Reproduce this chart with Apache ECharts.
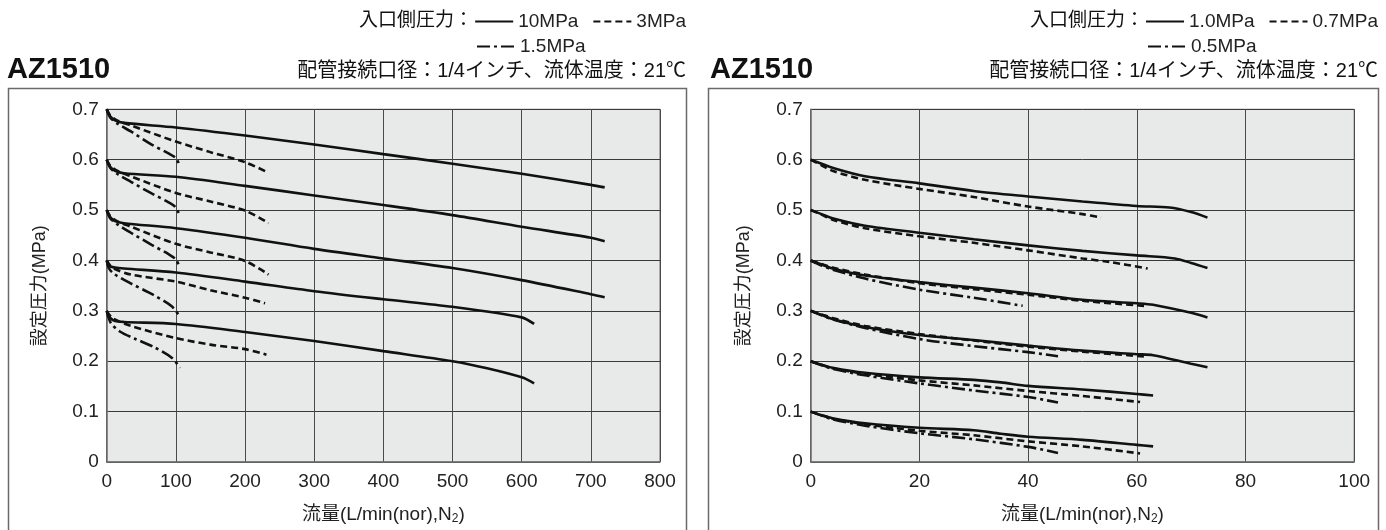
<!DOCTYPE html>
<html>
<head>
<meta charset="utf-8">
<script src="https://cdn.jsdelivr.net/npm/echarts@6/dist/echarts.min.js"></script>
<style>
html,body{margin:0;padding:0;background:#fff;}
#c{width:1386px;height:530px;}
</style>
</head>
<body>
<div id="c"></div>
<script>
// ---------- Data (x = flow L/min(nor), y = set pressure MPa) ----------
// Left chart: AZ1510, inlet pressure 10MPa (solid), 3MPa (dashed), 1.5MPa (dash-dot)
const L_10MPa_07 = [[0,0.700],[5,0.686],[12,0.678],[25,0.673],[100,0.664],[200,0.648],[300,0.630],[400,0.611],[500,0.592],[600,0.572],[700,0.550],[720,0.545]];
const L_10MPa_06 = [[0,0.600],[5,0.586],[12,0.578],[25,0.573],[100,0.566],[200,0.548],[300,0.529],[400,0.510],[500,0.490],[600,0.467],[700,0.445],[720,0.438]];
const L_10MPa_05 = [[0,0.500],[5,0.486],[12,0.478],[25,0.474],[100,0.464],[200,0.445],[300,0.423],[400,0.404],[500,0.385],[600,0.361],[700,0.333],[720,0.327]];
const L_10MPa_04 = [[0,0.400],[4,0.389],[12,0.386],[25,0.384],[100,0.376],[200,0.358],[300,0.339],[400,0.323],[500,0.308],[600,0.287],[618,0.274]];
const L_10MPa_03 = [[0,0.300],[5,0.286],[12,0.280],[25,0.278],[100,0.274],[200,0.258],[300,0.240],[400,0.220],[500,0.200],[550,0.186],[600,0.168],[618,0.156]];

const L_3MPa_07 = [[0,0.700],[5,0.688],[15,0.678],[35,0.668],[100,0.636],[150,0.615],[200,0.595],[234,0.574]];
const L_3MPa_06 = [[0,0.600],[5,0.588],[15,0.578],[35,0.567],[100,0.534],[150,0.517],[200,0.499],[234,0.474]];
const L_3MPa_05 = [[0,0.500],[5,0.488],[15,0.478],[35,0.467],[100,0.433],[150,0.416],[200,0.399],[234,0.372]];
const L_3MPa_04 = [[0,0.400],[5,0.390],[10,0.384],[35,0.372],[100,0.358],[150,0.341],[200,0.326],[229,0.315]];
const L_3MPa_03 = [[0,0.300],[5,0.290],[10,0.284],[35,0.270],[100,0.246],[150,0.233],[200,0.224],[231,0.213]];

const L_15MPa_07 = [[0,0.700],[5,0.684],[15,0.672],[35,0.656],[65,0.630],[90,0.612],[100,0.603],[106,0.587]];
const L_15MPa_06 = [[0,0.600],[5,0.584],[15,0.572],[35,0.556],[65,0.533],[90,0.515],[100,0.505],[106,0.487]];
const L_15MPa_05 = [[0,0.500],[5,0.484],[15,0.472],[35,0.455],[65,0.431],[90,0.412],[100,0.402],[106,0.385]];
const L_15MPa_04 = [[0,0.400],[3,0.385],[10,0.374],[34,0.355],[67,0.332],[94,0.309],[106,0.288]];
const L_15MPa_03 = [[0,0.300],[3,0.285],[7,0.274],[19,0.259],[40,0.245],[67,0.229],[94,0.207],[106,0.187]];

// Right chart: AZ1510, inlet pressure 1.0MPa (solid), 0.7MPa (dashed), 0.5MPa (dash-dot)
const R_10MPa_06 = [[0,0.600],[2,0.592],[4,0.584],[10,0.567],[20,0.553],[30,0.538],[40,0.527],[50,0.517],[60,0.508],[66,0.505],[70,0.496],[73,0.485]];
const R_10MPa_05 = [[0,0.500],[2,0.492],[4,0.484],[10,0.469],[20,0.455],[30,0.442],[40,0.430],[50,0.419],[60,0.410],[67,0.404],[70,0.395],[73,0.385]];
const R_10MPa_04 = [[0,0.400],[2,0.392],[4,0.384],[10,0.370],[20,0.357],[30,0.346],[40,0.335],[50,0.322],[60,0.315],[63,0.312],[70,0.296],[73,0.287]];
const R_10MPa_03 = [[0,0.300],[2,0.292],[4,0.284],[10,0.268],[20,0.252],[30,0.242],[40,0.231],[50,0.221],[60,0.214],[63,0.212],[70,0.195],[73,0.188]];
const R_10MPa_02 = [[0,0.200],[2,0.193],[4,0.187],[10,0.177],[20,0.168],[30,0.163],[35,0.158],[40,0.151],[50,0.144],[60,0.135],[63,0.132]];
const R_10MPa_01 = [[0,0.100],[2,0.093],[4,0.087],[10,0.077],[20,0.068],[30,0.063],[35,0.056],[40,0.050],[50,0.044],[60,0.034],[63,0.031]];

const R_07MPa_06 = [[0,0.600],[2,0.589],[4,0.578],[10,0.560],[20,0.542],[30,0.526],[40,0.507],[50,0.492],[53.4,0.485]];
const R_07MPa_05 = [[0,0.500],[2,0.491],[4,0.481],[10,0.464],[20,0.448],[30,0.435],[40,0.420],[50,0.404],[55,0.397],[62,0.384]];
const R_07MPa_04 = [[0,0.400],[2,0.393],[4,0.386],[10,0.372],[20,0.355],[30,0.343],[40,0.332],[50,0.320],[60,0.311],[62,0.309]];
const R_07MPa_03 = [[0,0.300],[2,0.293],[4,0.286],[10,0.270],[20,0.254],[30,0.241],[40,0.229],[50,0.219],[62,0.209]];
const R_07MPa_02 = [[0,0.200],[2,0.193],[4,0.186],[10,0.175],[20,0.162],[30,0.152],[40,0.141],[50,0.131],[60.6,0.119]];
const R_07MPa_01 = [[0,0.100],[2,0.093],[4,0.086],[10,0.075],[20,0.062],[30,0.053],[40,0.041],[50,0.031],[60.6,0.017]];

const R_05MPa_04 = [[0,0.400],[2,0.390],[4,0.382],[10,0.364],[20,0.342],[30,0.326],[39,0.310]];
const R_05MPa_03 = [[0,0.300],[2,0.291],[4,0.283],[10,0.266],[20,0.244],[30,0.230],[40,0.218],[45.5,0.210]];
const R_05MPa_02 = [[0,0.200],[2,0.192],[4,0.185],[10,0.172],[20,0.156],[30,0.142],[40,0.129],[45.5,0.118]];
const R_05MPa_01 = [[0,0.100],[2,0.092],[4,0.085],[10,0.072],[20,0.057],[30,0.045],[40,0.030],[45.5,0.018]];

// Axis ticks
const L_xTicks = [0,100,200,300,400,500,600,700,800];
const R_xTicks = [0,20,40,60,80,100];
const yTicks = [0,0.1,0.2,0.3,0.4,0.5,0.6,0.7];

// Legend / text
const L_names = ['10MPa','3MPa','1.5MPa'];
const R_names = ['1.0MPa','0.7MPa','0.5MPa'];
const titleText = 'AZ1510';
const subText = '配管接続口径：1/4インチ、流体温度：21℃';
const legendLabel = '入口側圧力：';
const yName = '設定圧力(MPa)';
const xName = '流量(L/min(nor),N{sub|2})';

// ---------- Chart ----------
const MIX = '"Liberation Sans", "Noto Sans CJK JP", sans-serif';
const NUM = '"Liberation Sans", Arial, sans-serif';
const INK = '#111';
const SOLID = 'solid', DASH = [7,4], DASHDOT = [13,4,3,4];

function mk(name, data, type, gi) {
  return {
    type: 'line', name, data, xAxisIndex: gi, yAxisIndex: gi,
    symbol: 'none', smooth: 0.3, silent: true, animation: false,
    lineStyle: { color: INK, width: 2.6, type },
    itemStyle: { color: INK }
  };
}

const series = [];
[L_10MPa_07,L_10MPa_06,L_10MPa_05,L_10MPa_04,L_10MPa_03].forEach(d=>series.push(mk(L_names[0], d, SOLID, 0)));
[L_3MPa_07,L_3MPa_06,L_3MPa_05,L_3MPa_04,L_3MPa_03].forEach(d=>series.push(mk(L_names[1], d, DASH, 0)));
[L_15MPa_07,L_15MPa_06,L_15MPa_05,L_15MPa_04,L_15MPa_03].forEach(d=>series.push(mk(L_names[2], d, DASHDOT, 0)));
[R_10MPa_06,R_10MPa_05,R_10MPa_04,R_10MPa_03,R_10MPa_02,R_10MPa_01].forEach(d=>series.push(mk(R_names[0], d, SOLID, 1)));
[R_07MPa_06,R_07MPa_05,R_07MPa_04,R_07MPa_03,R_07MPa_02,R_07MPa_01].forEach(d=>series.push(mk(R_names[1], d, DASH, 1)));
[R_05MPa_04,R_05MPa_03,R_05MPa_02,R_05MPa_01].forEach(d=>series.push(mk(R_names[2], d, DASHDOT, 1)));

const PLOT_TOP = 109.3, PLOT_H = 362.4;
const grids = [
  { left: 106.7, top: PLOT_TOP, width: 553.3, height: PLOT_H },
  { left: 810.7, top: PLOT_TOP, width: 543.5, height: PLOT_H }
].map(g => Object.assign(g, { show: true, backgroundColor: '#e8e9e9', borderColor: '#6a6a6a', borderWidth: 1 }));

const nameStyle = { fontFamily: MIX, fontSize: 19, color: '#222',
  rich: { sub: { fontFamily: NUM, fontSize: 12, color: '#222', padding: [9,0,0,0] } } };

function xAx(gi, ticks) {
  return {
    gridIndex: gi, type: 'value', min: ticks[0], max: ticks[ticks.length-1], interval: ticks[1]-ticks[0],
    axisLine: { show: true, onZero: false, lineStyle: { color: '#707070', width: 1.5 } },
    axisTick: { show: false },
    splitLine: { show: true, lineStyle: { color: '#4a4a4a', width: 1 } },
    axisLabel: { fontFamily: NUM, fontSize: 19, color: '#222', margin: 10, showMaxLabel: true, showMinLabel: true },
    name: xName, nameLocation: 'middle', nameGap: 42, nameTextStyle: nameStyle
  };
}
function yAx(gi) {
  return {
    gridIndex: gi, type: 'value', min: yTicks[0], max: yTicks[yTicks.length-1], interval: 0.1,
    axisLine: { show: true, onZero: false, lineStyle: { color: '#707070', width: 1.5 } },
    axisTick: { show: false },
    splitLine: { show: true, lineStyle: { color: '#3a3a3a', width: 1 } },
    axisLabel: { fontFamily: NUM, fontSize: 19, color: '#222', margin: 8,
      formatter: v => (Math.abs(v) < 1e-9 ? '0' : v.toFixed(1)) },
    name: yName, nameLocation: 'middle', nameRotate: 90, nameGap: 58,
    nameTextStyle: { fontFamily: MIX, fontSize: 18, color: '#222' }
  };
}

function legend(names, pos) {
  return Object.assign({
    data: names, orient: 'horizontal', itemWidth: 38, itemHeight: 12, itemGap: 14,
    selectedMode: false, padding: 0,
    itemStyle: { opacity: 0, borderWidth: 0 },
    textStyle: { fontFamily: NUM, fontSize: 19, color: '#222' }
  }, pos);
}

const subStyle = { fontFamily: MIX, fontSize: 20, fontWeight: 'normal', color: '#111' };
const titleStyle = { fontFamily: NUM, fontSize: 29, fontWeight: 'bold', color: '#111' };

const option = {
  backgroundColor: '#fff',
  animation: false,
  grid: grids,
  xAxis: [xAx(0, L_xTicks), xAx(1, R_xTicks)],
  yAxis: [yAx(0), yAx(1)],
  legend: [
    legend([L_names[0], L_names[1]], { right: 1386 - 686, top: 12 }),
    legend([L_names[2]], { left: 476, top: 37 }),
    legend([R_names[0], R_names[1]], { right: 1386 - 1378, top: 12 }),
    legend([R_names[2]], { left: 1147, top: 37 })
  ],
  title: [
    { text: titleText, left: 7, top: 55, padding: 0, textStyle: titleStyle },
    { text: titleText, left: 710, top: 55, padding: 0, textStyle: titleStyle },
    { text: subText, right: 1386 - 686, top: 61, padding: 0, textStyle: subStyle },
    { text: subText, right: 1386 - 1378, top: 61, padding: 0, textStyle: subStyle }
  ],
  graphic: [
    { type: 'rect', silent: true, z: -10, shape: { x: 8.5, y: 88.5, width: 678, height: 460 }, style: { fill: 'none', stroke: '#6a6a6a', lineWidth: 1.5 } },
    { type: 'rect', silent: true, z: -10, shape: { x: 708.5, y: 88.5, width: 670, height: 460 }, style: { fill: 'none', stroke: '#6a6a6a', lineWidth: 1.5 } },
    { type: 'text', silent: true, style: { text: legendLabel, x: 473, y: 21, align: 'right', verticalAlign: 'middle', fontFamily: MIX, fontSize: 19, fill: '#111' } },
    { type: 'text', silent: true, style: { text: legendLabel, x: 1144, y: 21, align: 'right', verticalAlign: 'middle', fontFamily: MIX, fontSize: 19, fill: '#111' } }
  ],
  series
};

const chart = echarts.init(document.getElementById('c'), null, { renderer: 'canvas' });
chart.setOption(option);
</script>
</body>
</html>
